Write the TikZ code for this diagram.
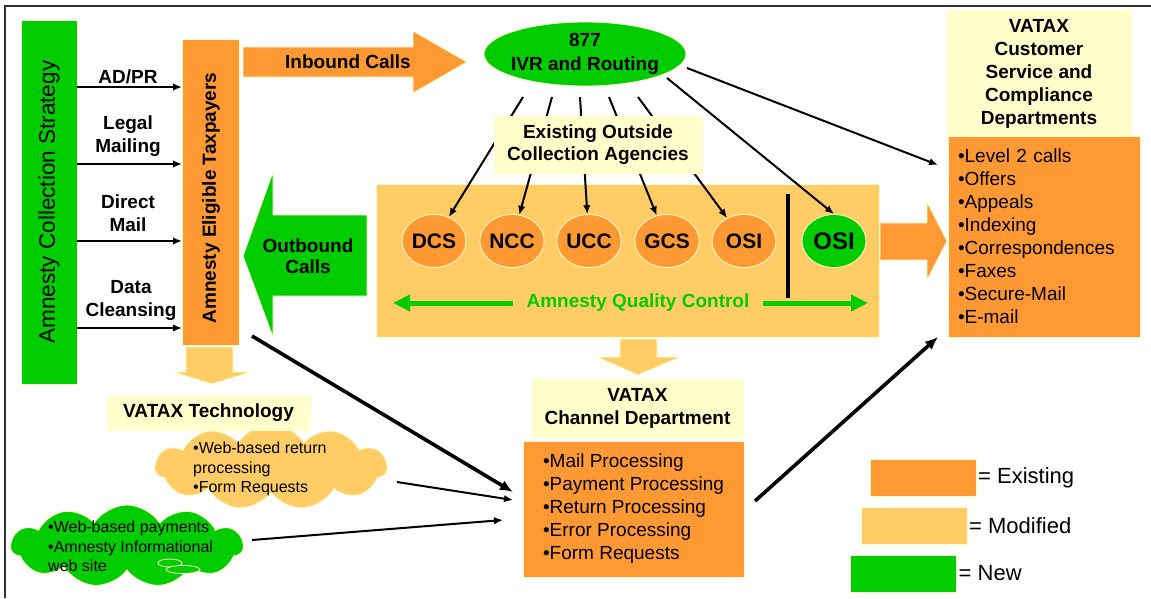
\documentclass[tikz,border=0pt]{standalone}
\usepackage{fontspec}
\setmainfont{Liberation Sans}
\usetikzlibrary{shapes.geometric,shapes.symbols,arrows.meta,positioning,calc}

\definecolor{newgreen}{HTML}{00CC00}
\definecolor{existorange}{HTML}{FF9933}
\definecolor{modorange}{HTML}{FFCC66}
\definecolor{paleyellow}{HTML}{FFFFCC}

\begin{document}
\begin{tikzpicture}[x=1pt,y=-1pt,
    panel/.style={rectangle,draw=paleyellow,line width=0.8pt,inner sep=0pt,outer sep=0pt},
    bodytext/.style={font=\fontsize{19}{23}\selectfont},
    headtext/.style={font=\fontsize{19}{23}\selectfont\bfseries},
    agency/.style={ellipse,fill=existorange,draw=paleyellow,line width=0.8pt,minimum width=64pt,
      minimum height=53pt,inner sep=0pt,font=\fontsize{21}{24}\selectfont\bfseries},
    puff/.style={cloud,cloud puffs=11,cloud puff arc=115,cloud ignores aspect,draw=paleyellow,
      line width=0.8pt,minimum width=232pt,inner sep=0pt},
    pufftext/.style={anchor=west,align=left,inner sep=0pt,font=\fontsize{16}{19.5}\selectfont},
    blockarrow/.style={fill=#1,draw=paleyellow,line width=0.8pt},
    link/.style={-{Latex[length=9pt,width=7.5pt]},line width=2pt},
    heavylink/.style={-{Latex[length=13pt,width=11pt]},line width=3.6pt},
    qcarrow/.style={-{Triangle[length=17pt,width=16pt]},line width=5pt,draw=newgreen},
    legendbox/.style={panel,minimum width=106pt,minimum height=37pt},
    legendtext/.style={font=\fontsize{22}{26}\selectfont,inner sep=1pt}]

  \useasboundingbox (0,0) rectangle (1151,598);

  % frame
  \draw[line width=1.6pt,black!80] (5,598) -- (5,6) -- (1151,6);

  % strategy and taxpayers
  \node[panel,fill=newgreen,minimum width=56pt,minimum height=364pt] (strat) at (49,202) {};
  \node[rotate=90,font=\fontsize{22.5}{26}\selectfont] (strattext) at (strat) {Amnesty Collection Strategy};
  \node[panel,fill=existorange,minimum width=57pt,minimum height=306pt] (elig) at (210.5,192) {};
  \node[headtext,rotate=90] (eligtext) at (211,198) {Amnesty Eligible Taxpayers};

  \node[headtext,align=center] (adpr) at (128,77) {AD/PR};
  \node[headtext,align=center] (legal) at (128,136) {Legal\\Mailing};
  \node[headtext,align=center] (direct) at (128,213.5) {Direct\\Mail};
  \node[headtext,align=center] (cleansing) at (131,300) {Data\\Cleansing};
  \foreach \y in {87,164,241,328}
    \draw[link,line width=2.4pt] (0,\y -| strat.east) -- (0,\y -| elig.west);

  \path[blockarrow=modorange] (186,347) -- (233,347) -- (233,372) -- (251,372) -- (212,384)
    -- (173,372) -- (186,372) -- cycle;

  % inbound / outbound
  \path[blockarrow=existorange] (243,47) -- (413,47) -- (413,31) -- (467,62) -- (413,93)
    -- (413,77) -- (243,77) -- cycle;
  \node[headtext] (inbound) at (348,62) {Inbound Calls};

  \path[blockarrow=newgreen] (367,215) -- (273,215) -- (273,172) -- (243,256) -- (273,337)
    -- (273,296) -- (367,296) -- cycle;
  \node[headtext,align=center,font=\fontsize{19}{21.5}\selectfont\bfseries] (outbound) at (308,256) {Outbound\\Calls};

  % IVR
  \node[ellipse,fill=newgreen,draw=paleyellow,line width=0.8pt,minimum width=202pt,minimum height=64pt,
    label={[headtext,align=center,font=\fontsize{19}{24}\selectfont\bfseries]center:877\\IVR and Routing}] (ivr) at (585,54) {};

  % outside agencies
  \node[panel,fill=modorange,minimum width=503pt,minimum height=153pt] (qc) at (627.5,260.5) {};
  \foreach \n/\x in {DCS/434,NCC/512,UCC/589,GCS/667,OSI/744}
    \node[agency] (a\n) at (\x,241) {\n};
  \node[agency,fill=newgreen,font=\fontsize{24}{26}\selectfont\bfseries] (osinew) at (834,241) {OSI};

  \foreach \n/\x in {DCS/523,NCC/552,UCC/580,GCS/609,OSI/638}{
    \coordinate (s\n) at (\x,97);
    \draw[link] (s\n) -- (a\n);
  }
  \coordinate (sosinew) at (667,78);
  \draw[link] (sosinew) -- (osinew.north);

  \node[panel,fill=paleyellow,minimum width=208pt,minimum height=57pt,headtext,align=center,
    font=\fontsize{19}{22}\selectfont\bfseries] (outside) at (598,144.5) {Existing Outside\\Collection Agencies};

  \draw[line width=3.5pt] (788,194) -- (788,298);
  \node[headtext,text=newgreen,inner xsep=13pt] (qctext) at (638,303) {Amnesty Quality Control};
  \draw[qcarrow,shorten >=17pt] (qctext.west) -- (qc.west |- qctext.west);
  \draw[qcarrow,shorten >=11pt] (qctext.east) -- (qc.east |- qctext.east);

  \path[blockarrow=existorange] (880,223) -- (927,223) -- (927,202) -- (947,241) -- (927,280)
    -- (927,260) -- (880,260) -- cycle;
  \path[blockarrow=modorange] (620,339) -- (657,339) -- (657,357) -- (680,357) -- (638,375)
    -- (597,357) -- (620,357) -- cycle;

  % customer service
  \node[panel,fill=paleyellow,minimum width=184pt,minimum height=127pt,headtext,align=center] (rhead)
    at (1039,73.5) {VATAX\\Customer\\Service and\\Compliance\\Departments};
  \node[panel,fill=existorange,minimum width=192pt,minimum height=201pt,bodytext,text width=172pt,
    inner xsep=10pt,align=left] (rlist) at (1044,236.5)
    {•Level 2 calls\\•Offers\\•Appeals\\•Indexing\\•Correspondences\\•Faxes\\•Secure-Mail\\•E-mail};

  \coordinate (ivrout) at (687,68);
  \draw[link] (ivrout) -- ($(rlist.north west)+(-10,29)$);

  % channel department
  \node[panel,fill=paleyellow,minimum width=211pt,minimum height=58pt,headtext,align=center] (chead)
    at (637.5,408) {VATAX\\Channel Department};
  \node[panel,fill=existorange,minimum width=221pt,minimum height=136pt,bodytext,align=left] (chan)
    at (633.5,509)
    {•Mail Processing\\•Payment Processing\\•Return Processing\\•Error Processing\\•Form Requests};

  % technology
  \node[puff,fill=modorange,minimum height=85pt] (ocloud) at (271,467) {};
  \node[pufftext] (octext) at (193,469) {•Web-based return\\processing\\•Form Requests};
  \node[panel,fill=paleyellow,minimum width=203pt,minimum height=34pt,headtext] (tech) at (208.5,413) {VATAX Technology};
  \node[puff,fill=newgreen,minimum height=82pt] (gcloud) at (127,546) {};
  \draw[fill=newgreen,draw=paleyellow,line width=0.8pt] (170,563) ellipse [x radius=12pt,y radius=4pt];
  \draw[fill=newgreen,draw=paleyellow,line width=0.8pt] (183,569.5) ellipse [x radius=17pt,y radius=4pt];
  \node[pufftext] (gctext) at (48,546.5) {•Web-based payments\\•Amnesty Informational\\web site};

  \coordinate (eligfoot) at (252,336);
  \draw[heavylink] (eligfoot) -- ($(chan.west)+(-10,-17)$);
  \coordinate (ocout) at (397,482);
  \draw[link] (ocout) -- ($(chan.west)+(-10,-9)$);
  \coordinate (gcout) at (252,540);
  \draw[link] (gcout) -- ($(chan.west)+(-20,11)$);

  \coordinate (chout) at ($(chan.east)+(11,-8)$);
  \draw[heavylink] (chout) -- ($(rlist.south west)+(-10,0)$);

  % legend
  \node[legendbox,fill=existorange] (lexist) at (923,477.5) {};
  \node[legendtext,right=1pt of lexist] (texist) {= Existing};
  \node[legendbox,fill=modorange] (lmod) at (914,525.5) {};
  \node[legendtext,right=1pt of lmod] (tmod) {= Modified};
  \node[legendbox,fill=newgreen] (lnew) at (903.5,573.5) {};
  \node[legendtext,right=1pt of lnew] (tnew) {= New};
\end{tikzpicture}
\end{document}
